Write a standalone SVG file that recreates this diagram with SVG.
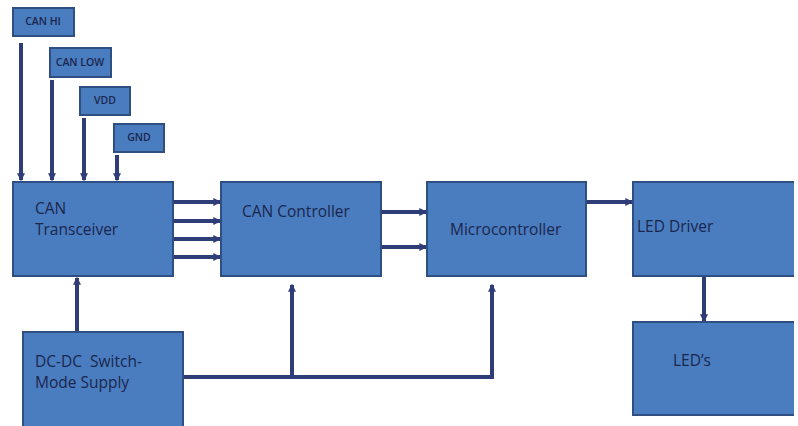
<svg xmlns="http://www.w3.org/2000/svg" width="798" height="426" viewBox="0 0 798 426">
<defs>
<style>
.box{fill:#4a7cc0;stroke:#2f4f82;stroke-width:2}
.lbl{font-family:"Open Sans","Liberation Sans",sans-serif;font-size:15.5px;fill:#1a274d}
.sm{font-family:"Open Sans","Liberation Sans",sans-serif;font-size:10.5px;font-weight:600;fill:#1a274d;text-anchor:middle}
.wire{stroke:#2e3d78;stroke-width:4;fill:none}
</style>
<marker id="ah" viewBox="0 0 6 6" refX="5" refY="3" markerWidth="2" markerHeight="2" orient="auto" markerUnits="strokeWidth">
<path d="M0,0 L6,3 L0,6 Z" fill="#2e3d78"/>
</marker>
</defs>
<rect width="798" height="426" fill="#ffffff"/>
<g id="connectors">
<line class="wire" x1="21" y1="43" x2="21" y2="180" marker-end="url(#ah)"/>
<line class="wire" x1="52" y1="80" x2="52" y2="180" marker-end="url(#ah)"/>
<line class="wire" x1="84" y1="118" x2="84" y2="180" marker-end="url(#ah)"/>
<line class="wire" x1="117" y1="155" x2="117" y2="180" marker-end="url(#ah)"/>
<line class="wire" x1="174" y1="202" x2="220" y2="202" marker-end="url(#ah)"/>
<line class="wire" x1="174" y1="221" x2="220" y2="221" marker-end="url(#ah)"/>
<line class="wire" x1="174" y1="239" x2="220" y2="239" marker-end="url(#ah)"/>
<line class="wire" x1="174" y1="257" x2="220" y2="257" marker-end="url(#ah)"/>
<line class="wire" x1="382" y1="212" x2="426" y2="212" marker-end="url(#ah)"/>
<line class="wire" x1="382" y1="247" x2="426" y2="247" marker-end="url(#ah)"/>
<line class="wire" x1="587" y1="202" x2="632" y2="202" marker-end="url(#ah)"/>
<line class="wire" x1="704" y1="277" x2="704" y2="321" marker-end="url(#ah)"/>
<line class="wire" x1="77" y1="332" x2="77" y2="278" marker-end="url(#ah)"/>
<polyline class="wire" points="184,377 492,377"/>
<line class="wire" x1="292" y1="377" x2="292" y2="285" marker-end="url(#ah)"/>
<line class="wire" x1="492" y1="379" x2="492" y2="285" marker-end="url(#ah)"/>
</g>
<g id="can-hi"><rect class="box" x="13" y="8" width="61" height="28"/><text class="sm" x="43" y="25">CAN HI</text></g>
<g id="can-low"><rect class="box" x="50" y="48" width="61" height="29"/><text class="sm" x="80" y="66">CAN LOW</text></g>
<g id="vdd"><rect class="box" x="80" y="87" width="50" height="28"/><text class="sm" x="105" y="104">VDD</text></g>
<g id="gnd"><rect class="box" x="114" y="124" width="50" height="28"/><text class="sm" x="139" y="141">GND</text></g>
<g id="can-transceiver"><rect class="box" x="13" y="182" width="160" height="94"/><text class="lbl" x="35" y="214">CAN</text><text class="lbl" x="35" y="235">Transceiver</text></g>
<g id="can-controller"><rect class="box" x="221" y="182" width="160" height="94"/><text class="lbl" x="242" y="217">CAN Controller</text></g>
<g id="microcontroller"><rect class="box" x="427" y="182" width="159" height="94"/><text class="lbl" x="450" y="235">Microcontroller</text></g>
<g id="led-driver"><rect x="633" y="182" width="161" height="94" fill="#4a7cc0"/><path d="M794,182 H633 V276 H794" fill="none" stroke="#2f4f82" stroke-width="2"/><text class="lbl" x="637" y="232">LED Driver</text></g>
<g id="leds"><rect x="633" y="322" width="161" height="93" fill="#4a7cc0"/><path d="M794,322 H633 V415 H794" fill="none" stroke="#2f4f82" stroke-width="2"/><text class="lbl" x="673" y="366">LED’s</text></g>
<g id="dc-dc"><rect class="box" x="23" y="332" width="160" height="100"/><text class="lbl" x="35" y="367" xml:space="preserve">DC-DC  Switch-</text><text class="lbl" x="35" y="388">Mode Supply</text></g>
</svg>
